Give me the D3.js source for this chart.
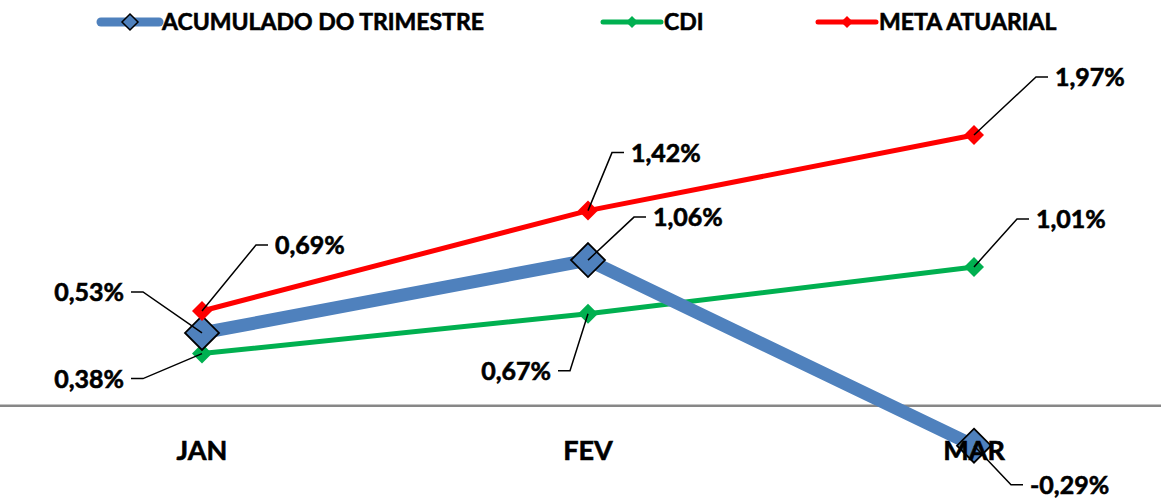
<!DOCTYPE html>
<meta charset="utf-8">
<script src="https://d3js.org/d3.v7.min.js"></script>
<style>
  body { margin: 0; background: #fff; }
  text { font-family: Lato, "Open Sans", sans-serif; font-weight: bold; fill: #000; stroke: #000; stroke-width: 0.6px; }
</style>
<div id="my_dataviz"></div>
<script>
// data (values in %)
var months = ["JAN", "FEV", "MAR"];
var acumulado = [0.53, 1.06, -0.29];
var cdi = [0.38, 0.67, 1.01];
var meta = [0.69, 1.42, 1.97];
var seriesNames = ["ACUMULADO DO TRIMESTRE", "CDI", "META ATUARIAL"];

// label leader offsets (elbow relative to the point), one per point
var acumLabelPos = [[-59, -41], [46, -43], [37, 39]];
var cdiLabelPos = [[-59, 25], [-18, 57], [43, -48]];
var metaLabelPos = [[54, -66], [24, -58], [62, -58]];

var width = 1161, height = 499;

var svg = d3.select("#my_dataviz")
  .append("svg")
    .attr("width", width)
    .attr("height", height);

var x = d3.scalePoint()
    .domain(months)
    .range([202, 974]);

var y = d3.scaleLinear()
    .domain([-0.5, 2.5])
    .range([474.6, 62.1]);

var pt = d3.formatLocale({decimal: ",", thousands: ".", grouping: [3], currency: ["", ""], minus: "-"});
var fmt = function(v) { return pt.format(".2f")(v) + "%"; };

var series = [
  {name: seriesNames[0], values: acumulado, color: "#4F81BD", lw: 13, mk: 17, stroke: "#000", labels: acumLabelPos},
  {name: seriesNames[1], values: cdi, color: "#00B050", lw: 5, mk: 10, stroke: "none", labels: cdiLabelPos},
  {name: seriesNames[2], values: meta, color: "#FF0000", lw: 5, mk: 10, stroke: "none", labels: metaLabelPos}
];

function diamond(r) {
  return "M0," + (-r) + "L" + r + ",0L0," + r + "L" + (-r) + ",0Z";
}

// zero line
svg.append("line")
    .attr("x1", 0).attr("x2", width)
    .attr("y1", y(0)).attr("y2", y(0))
    .attr("stroke", "#878787")
    .attr("stroke-width", 2.5);

var line = d3.line()
    .x(function(d, i) { return x(months[i]); })
    .y(function(d) { return y(d); });

// draw in the order the picture stacks them: CDI, acumulado, meta
[series[1], series[0], series[2]].forEach(function(s) {
  svg.append("path")
      .datum(s.values)
      .attr("fill", "none")
      .attr("stroke", s.color)
      .attr("stroke-width", s.lw)
      .attr("stroke-linejoin", "round")
      .attr("d", line);

  svg.append("g")
    .selectAll("path")
    .data(s.values)
    .enter()
    .append("path")
      .attr("transform", function(d, i) { return "translate(" + x(months[i]) + "," + y(d) + ")"; })
      .attr("d", diamond(s.mk))
      .attr("fill", s.color)
      .attr("stroke", s.stroke)
      .attr("stroke-width", 1.8);
});

// axis labels
svg.append("g")
  .selectAll("text")
  .data(months)
  .enter()
  .append("text")
    .attr("x", function(d) { return x(d); })
    .attr("y", 460)
    .attr("text-anchor", "middle")
    .style("font-size", "27px")
    .text(function(d) { return d; });

// data labels with leader lines
series.forEach(function(s) {
  s.values.forEach(function(v, i) {
    var px = x(months[i]), py = y(v);
    var ex = px + s.labels[i][0], ey = py + s.labels[i][1];
    var dir = s.labels[i][0] >= 0 ? 1 : -1;
    svg.append("path")
        .attr("d", "M" + px + "," + py + "L" + ex + "," + ey + "L" + (ex + dir * 12) + "," + ey)
        .attr("fill", "none")
        .attr("stroke", "#000")
        .attr("stroke-width", 1.5);
    svg.append("text")
        .attr("x", ex + dir * 19)
        .attr("y", ey)
        .attr("dy", "0.36em")
        .attr("text-anchor", dir > 0 ? "start" : "end")
        .style("font-size", "25px")
        .text(fmt(v));
  });
});

// legend
var legendX = [101, 603, 818];
var legend = svg.append("g")
  .selectAll("g")
  .data(series)
  .enter()
  .append("g")
    .attr("transform", function(d, i) { return "translate(" + legendX[i] + ",22)"; });

legend.append("line")
    .attr("x1", 0).attr("x2", 58)
    .attr("stroke", function(d) { return d.color; })
    .attr("stroke-width", function(d) { return d.lw > 6 ? 9 : 5; })
    .attr("stroke-linecap", "round");

legend.append("path")
    .attr("transform", "translate(29,0)")
    .attr("d", function(d) { return diamond(d.lw > 6 ? 8 : 6); })
    .attr("fill", function(d) { return d.color; })
    .attr("stroke", function(d) { return d.stroke; })
    .attr("stroke-width", 1.5);

legend.append("text")
    .attr("x", 61)
    .attr("y", 0)
    .attr("dy", "0.36em")
    .style("font-size", "23px")
    .text(function(d) { return d.name; });
</script>
